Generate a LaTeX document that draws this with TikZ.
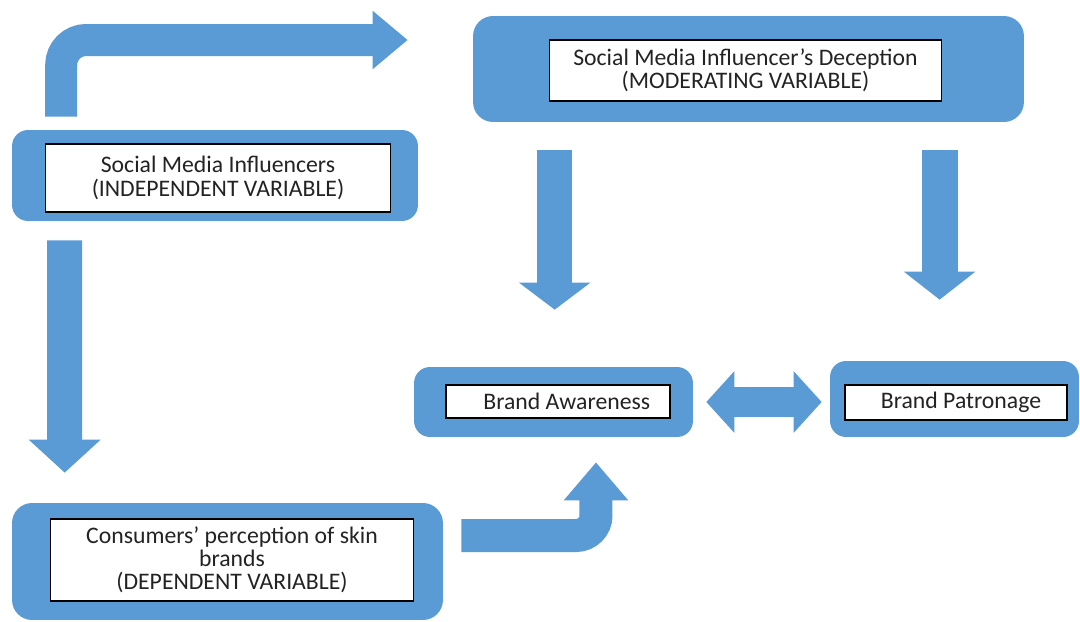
\documentclass[tikz,border=0pt]{standalone}
\usepackage{fontspec}
\setmainfont{Carlito}
\usetikzlibrary{arrows.meta}
\definecolor{boxblue}{RGB}{91,155,213}
\definecolor{textgray}{RGB}{35,35,35}
\begin{document}
\begin{tikzpicture}[x=0.02cm, y=-0.02cm,
        outerbox/.style={fill=boxblue, draw=none, rounded corners=0.32cm},
        innerbox/.style={fill=white, draw=black, line width=0.6pt, align=center, text=textgray, font=\fontsize{13.5pt}{13.2pt}\selectfont, inner sep=0pt},
        blockarrow/.style={draw=boxblue, line width=0.66cm}]
    \useasboundingbox[fill=white] (0,0) rectangle (1080,622);

    \node(infl_box) at (215,175.5) [outerbox, minimum width=8.12cm, minimum height=1.82cm] {};
    \node(infl_text) at (218,178) [innerbox, minimum width=6.92cm, minimum height=1.36cm] {Social Media Influencers\\(INDEPENDENT VARIABLE)};

    \node(decep_box) at (748.5,69) [outerbox, minimum width=11.02cm, minimum height=2.12cm, rounded corners=0.4cm] {};
    \node(decep_text) at (745.5,70.5) [innerbox, minimum width=7.86cm, minimum height=1.22cm] {Social Media Influencer’s Deception\\(MODERATING VARIABLE)};

    \node(aware_box) at (553.5,402) [outerbox, minimum width=5.58cm, minimum height=1.4cm] {};
    \node(aware_text) at (558,401.5) [innerbox, minimum width=4.48cm, minimum height=0.66cm] {\hspace{0.35cm}Brand Awareness};

    \node(patron_box) at (954.5,399) [outerbox, minimum width=4.98cm, minimum height=1.52cm] {};
    \node(patron_text) at (956,402.5) [innerbox, minimum width=4.44cm, minimum height=0.7cm] {\hspace{0.2cm}Brand Patronage};

    \node(cons_box) at (227.5,561.5) [outerbox, minimum width=8.62cm, minimum height=2.34cm, rounded corners=0.4cm] {};
    \node(cons_text) at (232,560) [innerbox, minimum width=7.28cm, minimum height=1.64cm] {Consumers’ perception of skin\\brands\\(DEPENDENT VARIABLE)};

    \draw[blockarrow, line width=0.64cm, rounded corners=0.5cm, shorten <=0.26cm, -{Triangle[width=1.12cm,length=0.7cm]}]
        ([xshift=0.99cm]infl_box.north west) |- ([xshift=-1.3cm, yshift=0.58cm]decep_box.west);
    \draw[blockarrow, line width=0.7cm, shorten <=0.38cm, shorten >=0.6cm, -{Triangle[width=1.4cm,length=0.66cm]}]
        ([xshift=1.06cm]infl_box.south west) -- ([xshift=1.06cm]cons_box.north west);
    \draw[blockarrow, line width=0.7cm, shorten <=0.56cm, shorten >=1.14cm, -{Triangle[width=1.4cm,length=0.54cm]}]
        ([xshift=1.64cm]decep_box.south west) -- ([xshift=1.64cm]decep_box.south west |- aware_box.north);
    \draw[blockarrow, line width=0.72cm, shorten <=0.56cm, shorten >=1.22cm, -{Triangle[width=1.4cm,length=0.56cm]}]
        ([xshift=9.34cm]decep_box.south west) -- ([xshift=9.34cm]decep_box.south west |- patron_box.north);
    \draw[blockarrow, line width=0.6cm, shorten <=0.26cm, shorten >=0.16cm, {Triangle[width=1.2cm,length=0.56cm]}-{Triangle[width=1.2cm,length=0.56cm]}]
        (aware_box.east) -- (aware_box.east -| patron_box.west);
    \draw[blockarrow, rounded corners=0.4cm, shorten <=0.36cm, shorten >=0.5cm, -{Triangle[width=1.24cm,length=0.76cm]}]
        ([yshift=0.52cm]cons_box.east) -| ([xshift=0.85cm]aware_box.south);
\end{tikzpicture}
\end{document}
